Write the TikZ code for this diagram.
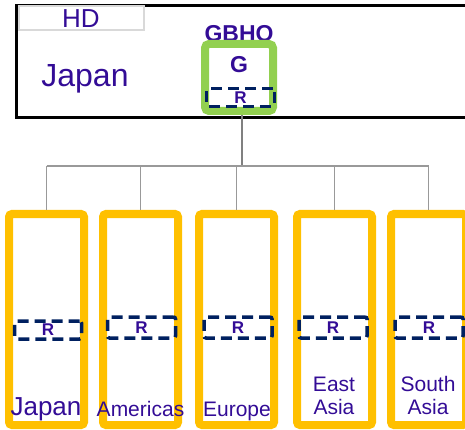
\documentclass[tikz,border=0pt]{standalone}
\usepackage{fontspec}
\setmainfont{Liberation Sans}
\usetikzlibrary{positioning}
\definecolor{hdblue}{RGB}{51,12,150}
\definecolor{gold}{RGB}{255,192,0}
\definecolor{leaf}{RGB}{146,208,80}
\definecolor{navy}{RGB}{0,32,96}
\tikzstyle{region} = [rectangle, draw=gold, line width=8pt, rounded corners=3pt, minimum width=75pt, minimum height=211pt, inner sep=0pt]
\tikzstyle{rbox} = [rectangle, draw=navy, line width=3.5pt, dash pattern=on 11pt off 6pt, rounded corners=2pt, minimum width=68pt, minimum height=21pt, inner sep=0pt, text=hdblue, font=\bfseries\fontsize{17}{17}\selectfont]
\tikzstyle{regtext} = [text=hdblue, inner sep=0pt, font=\fontsize{21}{23}\selectfont]
\tikzstyle{link} = [draw=gray!80, line width=1.2pt]

\begin{document}
\begin{tikzpicture}[x=1pt, y=-1pt]
    \useasboundingbox (0,0) rectangle (465,430);
    % holding company
    \node (hd) [rectangle, draw, line width=3pt, minimum width=460pt, minimum height=112pt, inner sep=0pt] at (246.5,61.5) {};
    \node (hdtag) [rectangle, draw=black!15, line width=2pt, minimum width=125pt, minimum height=24pt, inner sep=0pt, text=hdblue, font=\fontsize{26}{26}\selectfont] at (81,18.5) {HD};
    \node (hdname) [regtext, anchor=base, font=\fontsize{32}{32}\selectfont] at (85,87) {Japan};
    \node (gbhq) [regtext, anchor=base, font=\bfseries\fontsize{23}{23}\selectfont] at (239,41.5) {GBHQ};
    \node (gb) [rectangle, draw=leaf, line width=8pt, rounded corners=4pt, minimum width=68pt, minimum height=67pt] at (239,77.5) {};
    \node (g) [regtext, anchor=base, font=\bfseries\fontsize{23}{23}\selectfont] at (239,73) {G};
    \node (r0) [rbox, minimum height=18pt] at (240.5,97.5) {R};

    % tree lines
    \coordinate (bus) at (241.5,166);
    \draw[link, line width=2pt, draw=gray] (gb.south -| bus) -- (bus);

    % regions
    \node (jp) [region] at (46.5,319.5) {};
    \node (am) [region] at (140.5,319.5) {};
    \node (eu) [region] at (236.5,319.5) {};
    \node (ea) [region] at (334.5,319.5) {};
    \node (sa) [region] at (428.5,319.5) {};

    \draw[link] (jp.north |- bus) -- (sa.north |- bus);
    \draw[link] (jp.north |- bus) -- (jp.north);
    \draw[link] (am.north |- bus) -- (am.north);
    \draw[link] (eu.north |- bus) -- (eu.north);
    \draw[link] (ea.north |- bus) -- (ea.north);
    \draw[link] (sa.north |- bus) -- (sa.north);

    \node (r1) [rbox, minimum width=67pt, minimum height=18pt] at (48,330) {R};
    \node (r2) [rbox] at (141.5,327.5) {R};
    \node (r3) [rbox] at (238,327.5) {R};
    \node (r4) [rbox] at (333,327.5) {R};
    \node (r5) [rbox] at (429,327.5) {R};

    \node (jpname) [regtext, anchor=base, font=\fontsize{26}{26}\selectfont] at (46,415) {Japan};
    \node (amname) [regtext, anchor=base] at (140.5,416) {Americas};
    \node (euname) [regtext, anchor=base] at (237,416) {Europe};
    \node (eaname) [regtext, anchor=south, align=center] at (334,415) {East\\Asia};
    \node (saname) [regtext, anchor=south, align=center] at (428,415) {South\\Asia};
\end{tikzpicture}
\end{document}
